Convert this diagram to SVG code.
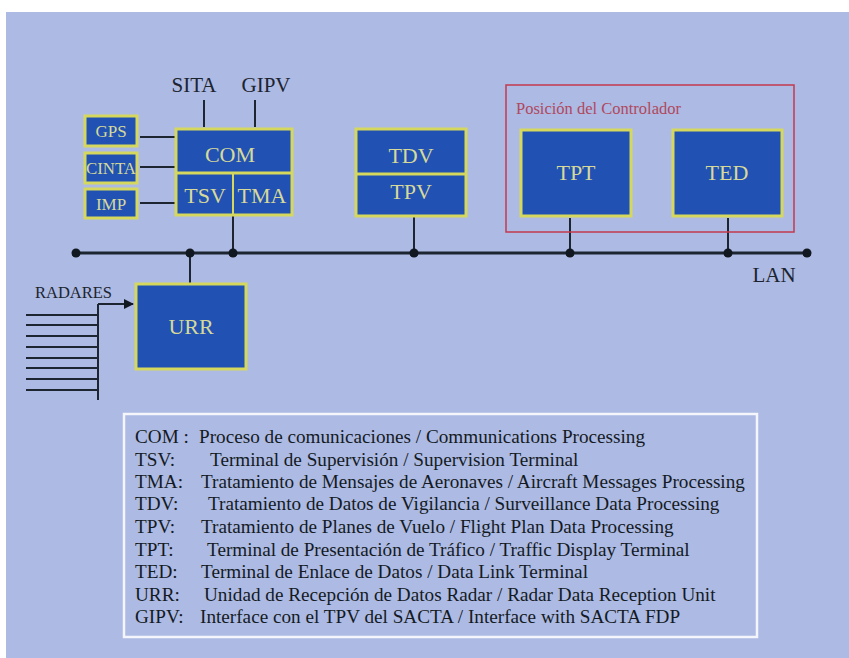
<svg xmlns="http://www.w3.org/2000/svg" width="849" height="658" viewBox="0 0 849 658">
<style>
.bg{fill:#adbae3}
.box{fill:#2152b3;stroke:#d6d85e;stroke-width:3}
.bt{font-family:"Liberation Serif","Times New Roman",serif;fill:#d7d99a;text-anchor:middle}
.lbl{font-family:"Liberation Serif","Times New Roman",serif;fill:#1c2430}
.ln{stroke:#1c2530;stroke-width:2;fill:none}
.dot{fill:#111820}
.leg{font-family:"Liberation Serif","Times New Roman",serif;font-size:19.2px;fill:#141a24}
</style>
<defs>
<marker id="arr" markerWidth="10" markerHeight="10" refX="9" refY="5" orient="auto" markerUnits="userSpaceOnUse">
<path d="M0,0 L10,5 L0,10 Z" fill="#111820"/>
</marker>
</defs>
<rect x="0" y="0" width="849" height="658" fill="#ffffff"/>
<rect class="bg" x="6" y="12" width="843" height="646"/>

<g id="connectors">
<line class="ln" x1="140" y1="137" x2="175" y2="137"/>
<line class="ln" x1="140" y1="167" x2="175" y2="167"/>
<line class="ln" x1="140" y1="203" x2="175" y2="203"/>
<line class="ln" x1="204" y1="100" x2="204" y2="127"/>
<line class="ln" x1="255" y1="100" x2="255" y2="127"/>
<line class="ln" x1="233" y1="216" x2="233" y2="253"/>
<line class="ln" x1="190" y1="253" x2="190" y2="283"/>
<line class="ln" x1="414" y1="217" x2="414" y2="253"/>
<line class="ln" x1="570" y1="218" x2="570" y2="253"/>
<line class="ln" x1="728" y1="218" x2="728" y2="253"/>
<line x1="76" y1="253" x2="807" y2="253" stroke="#1c2530" stroke-width="3"/>
<circle class="dot" cx="76" cy="253" r="4.5"/>
<circle class="dot" cx="190" cy="253" r="4.5"/>
<circle class="dot" cx="233" cy="253" r="4.5"/>
<circle class="dot" cx="414" cy="253" r="4.5"/>
<circle class="dot" cx="570" cy="253" r="4.5"/>
<circle class="dot" cx="728" cy="253" r="4.5"/>
<circle class="dot" cx="807" cy="253" r="4.5"/>
<line class="ln" x1="98" y1="304" x2="98" y2="400"/>
<line class="ln" x1="98" y1="304" x2="133" y2="304" marker-end="url(#arr)"/>
<line class="ln" x1="26" y1="315" x2="98" y2="315"/>
<line class="ln" x1="26" y1="325" x2="98" y2="325"/>
<line class="ln" x1="26" y1="336" x2="98" y2="336"/>
<line class="ln" x1="26" y1="347" x2="98" y2="347"/>
<line class="ln" x1="26" y1="358" x2="98" y2="358"/>
<line class="ln" x1="26" y1="368" x2="98" y2="368"/>
<line class="ln" x1="26" y1="379" x2="98" y2="379"/>
<line class="ln" x1="26" y1="390" x2="98" y2="390"/>
</g>

<g id="labels">
<text class="lbl" x="194" y="92" font-size="21" text-anchor="middle">SITA</text>
<text class="lbl" x="266" y="92" font-size="21" text-anchor="middle">GIPV</text>
<text class="lbl" x="35" y="298" font-size="16.5">RADARES</text>
<text class="lbl" x="774" y="282" font-size="21" text-anchor="middle">LAN</text>
</g>

<g id="gps"><rect class="box" x="85" y="116" width="52" height="30"/><text class="bt" x="111" y="137" font-size="17">GPS</text></g>
<g id="cinta"><rect class="box" x="85" y="153" width="52" height="30"/><text class="bt" x="111" y="174" font-size="16.5" textLength="50" lengthAdjust="spacingAndGlyphs">CINTA</text></g>
<g id="imp"><rect class="box" x="85" y="189" width="52" height="29"/><text class="bt" x="111" y="210" font-size="17">IMP</text></g>

<g id="com-group">
<rect class="box" x="176" y="129" width="116" height="86"/>
<line x1="176" y1="173" x2="292" y2="173" stroke="#d6d85e" stroke-width="3"/>
<line x1="233" y1="173" x2="233" y2="215" stroke="#d6d85e" stroke-width="2"/>
<text class="bt" x="230" y="162" font-size="22">COM</text>
<text class="bt" x="205" y="203" font-size="22">TSV</text>
<text class="bt" x="262" y="203" font-size="22">TMA</text>
</g>

<g id="tdv-tpv">
<rect class="box" x="356" y="129" width="110" height="87"/>
<line x1="356" y1="174" x2="466" y2="174" stroke="#d6d85e" stroke-width="3"/>
<text class="bt" x="411" y="163" font-size="22">TDV</text>
<text class="bt" x="411" y="199" font-size="22">TPV</text>
</g>

<g id="posicion">
<rect x="506" y="85" width="288" height="147" fill="none" stroke="#c23a4e" stroke-width="1.5"/>
<text x="516" y="114" font-family="'Liberation Serif','Times New Roman',serif" font-size="16.5" fill="#b0485e">Posición del Controlador</text>
</g>

<g id="tpt"><rect class="box" x="521" y="130" width="110" height="86"/><text class="bt" x="576" y="180" font-size="22">TPT</text></g>
<g id="ted"><rect class="box" x="673" y="130" width="109" height="86"/><text class="bt" x="727" y="180" font-size="22">TED</text></g>
<g id="urr"><rect class="box" x="136" y="284" width="110" height="85"/><text class="bt" x="191" y="334" font-size="22">URR</text></g>

<g id="legend">
<rect x="124" y="414" width="633" height="223" fill="#adbae3" stroke="#f4f6fc" stroke-width="2.5"/>
<text class="leg" x="135" y="443">COM :</text><text class="leg" x="199" y="443">Proceso de comunicaciones / Communications Processing</text>
<text class="leg" x="135" y="466">TSV:</text><text class="leg" x="210" y="466">Terminal de Supervisión / Supervision Terminal</text>
<text class="leg" x="135" y="488">TMA:</text><text class="leg" x="201" y="488">Tratamiento de Mensajes de Aeronaves / Aircraft Messages Processing</text>
<text class="leg" x="135" y="510">TDV:</text><text class="leg" x="208" y="510">Tratamiento de Datos de Vigilancia / Surveillance Data Processing</text>
<text class="leg" x="135" y="533">TPV:</text><text class="leg" x="201" y="533">Tratamiento de Planes de Vuelo / Flight Plan Data Processing</text>
<text class="leg" x="135" y="556">TPT:</text><text class="leg" x="207" y="556">Terminal de Presentación de Tráfico / Traffic Display Terminal</text>
<text class="leg" x="135" y="578">TED:</text><text class="leg" x="201" y="578">Terminal de Enlace de Datos / Data Link Terminal</text>
<text class="leg" x="135" y="601">URR:</text><text class="leg" x="204" y="601">Unidad de Recepción de Datos Radar / Radar Data Reception Unit</text>
<text class="leg" x="135" y="623">GIPV:</text><text class="leg" x="200" y="623">Interface con el TPV del SACTA / Interface with SACTA FDP</text>
</g>
</svg>
